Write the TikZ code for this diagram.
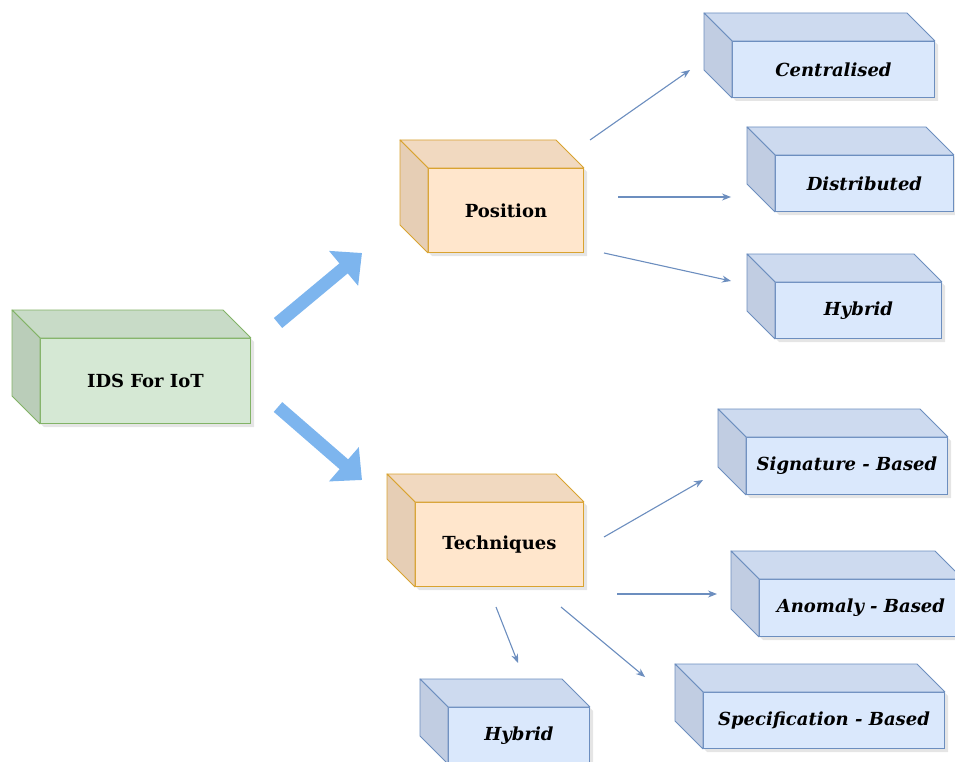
\documentclass[tikz,border=0pt]{standalone}
\usepackage{fontspec}
\setmainfont{DejaVu Serif}
\usetikzlibrary{arrows.meta,calc}

% palettes: front face, top face, side face, outline
\definecolor{gfront}{HTML}{D5E8D4}\definecolor{gtop}{HTML}{C8DBC7}
\definecolor{gside}{HTML}{BACDB9}\definecolor{gline}{HTML}{82B366}
\definecolor{ofront}{HTML}{FFE6CC}\definecolor{otop}{HTML}{F1D9C0}
\definecolor{oside}{HTML}{E6CEB5}\definecolor{oline}{HTML}{D9A330}
\definecolor{bfront}{HTML}{DAE8FC}\definecolor{btop}{HTML}{CDDAEF}
\definecolor{bside}{HTML}{C1CDE2}\definecolor{bline}{HTML}{6C8EBF}
\definecolor{bigarrow}{HTML}{7DB5EE}

\tikzset{
  mainlbl/.style={font=\fontsize{18}{21}\selectfont\bfseries},
  leaflbl/.style={font=\fontsize{18}{21}\selectfont\bfseries\itshape},
  thinarrow/.style={draw=bline, line width=1.1pt, -{Stealth[length=9pt,width=7pt]}},
  fatarrow/.style={draw=bigarrow, line width=13pt, -{Triangle[length=24pt,width=44pt]}},
}

% cuboid box: name, front top-left x, y, width, height, palette letter, label style, text
\newcommand\cubebox[8]{%
  \fill[black,opacity=.10] ($(#2,#3)+(-26,-26)$) -- ++(#4,0) -- ++(30,30) -- ++(0,#5) -- ++(-#4,0) -- ++(-30,-30) -- cycle;
  \node[draw=#6line, fill=#6front, line width=0.9pt, minimum width=#4pt, minimum height=#5pt,
        anchor=north west, inner sep=0pt, #7] (#1) at (#2,#3) {#8};
  \draw[#6line, fill=#6top, line width=0.9pt, line join=round]
    (#1.north west) -- ++(-28,-28) -- ($(#1.north east)+(-28,-28)$) -- (#1.north east) -- cycle;
  \draw[#6line, fill=#6side, line width=0.9pt, line join=round]
    (#1.north west) -- ++(-28,-28) -- ($(#1.south west)+(-28,-28)$) -- (#1.south west) -- cycle;
}

\begin{document}
\begin{tikzpicture}[x=1pt,y=-1pt]
\useasboundingbox (0,0) rectangle (955,762);

% root and the two branches
\cubebox{ids}{40}{338}{210}{85}{g}{mainlbl}{IDS For IoT}
\cubebox{pos}{428}{168}{155}{84}{o}{mainlbl}{Position}
\cubebox{tech}{415}{502}{168}{84}{o}{mainlbl}{Techniques}

% leaves under Position
\cubebox{cent}{732}{41}{202}{56}{b}{leaflbl}{Centralised}
\cubebox{dist}{775}{155}{178}{56}{b}{leaflbl}{Distributed}
\cubebox{hyb1}{775}{282}{166}{56}{b}{leaflbl}{Hybrid}

% leaves under Techniques
\cubebox{sig}{746}{437}{201}{57}{b}{leaflbl}{Signature - Based}
\cubebox{anom}{759}{579}{203}{57}{b}{leaflbl}{Anomaly - Based}
\cubebox{spec}{703}{692}{241}{56}{b}{leaflbl}{Specification - Based}
\cubebox{hyb2}{448}{707}{141}{56}{b}{leaflbl}{Hybrid}

% wide arrows from the root
\coordinate (a1s) at (278,323); \coordinate (a1e) at (362,253);
\coordinate (a2s) at (278,407); \coordinate (a2e) at (362,480);
\draw[fatarrow] (a1s) -- (a1e);
\draw[fatarrow] (a2s) -- (a2e);

% thin arrows to the leaves
\coordinate (p1s) at (590,140); \coordinate (p1e) at (690,70);
\coordinate (p2s) at (618,197); \coordinate (p2e) at (731,197);
\coordinate (p3s) at (604,253); \coordinate (p3e) at (731,281);
\draw[thinarrow] (p1s) -- (p1e);
\draw[thinarrow] (p2s) -- (p2e);
\draw[thinarrow] (p3s) -- (p3e);

\coordinate (t1s) at (604,537); \coordinate (t1e) at (703,480);
\coordinate (t2s) at (617,594); \coordinate (t2e) at (717,594);
\coordinate (t3s) at (561,607); \coordinate (t3e) at (645,677);
\coordinate (t4s) at (496,607); \coordinate (t4e) at (518,663);
\draw[thinarrow] (t1s) -- (t1e);
\draw[thinarrow] (t2s) -- (t2e);
\draw[thinarrow] (t3s) -- (t3e);
\draw[thinarrow] (t4s) -- (t4e);
\end{tikzpicture}
\end{document}
